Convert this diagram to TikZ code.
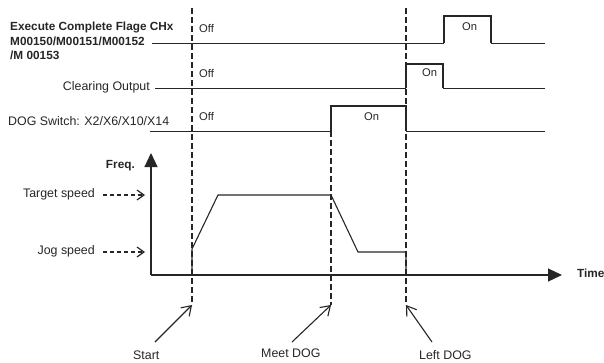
\documentclass[tikz,border=0pt]{standalone}
\usepackage{fontspec}
\setmainfont{Liberation Sans}
\usetikzlibrary{arrows.meta}
\definecolor{ink}{gray}{0.15}
\begin{document}
\begin{tikzpicture}[x=1pt,y=-1pt,
  lbl/.style={inner sep=0pt,text=ink,font=\fontsize{12.4}{14}\selectfont},
  blbl/.style={inner sep=0pt,text=ink,font=\fontsize{11.8}{14}\selectfont\bfseries},
  state/.style={inner sep=0pt,text=ink,font=\fontsize{11.2}{13}\selectfont},
  base/.style={draw=ink,line width=0.9pt},
  high/.style={draw=ink,line width=1.4pt},
  marker/.style={draw=ink,line width=1.8pt,dash pattern=on 6pt off 3pt},
  axis/.style={draw=ink,line width=1.2pt,-{Triangle[length=14pt,width=13pt]}},
  hint/.style={draw=ink,line width=1.2pt,dash pattern=on 4pt off 3pt,-{Straight Barb[length=7pt,width=10pt]}},
  pointer/.style={draw=ink,line width=1.1pt,-{Straight Barb[length=9pt,width=12pt]}},
  profile/.style={draw=ink,line width=1.1pt}
]
\useasboundingbox (0,0) rectangle (604,362);

% labels
\node[blbl,anchor=mid west] (l1a) at (10,28) {Execute Complete Flage CHx};
\node[blbl,anchor=mid west] (l1b) at (10,43) {M00150/M00151/M00152};
\node[blbl,anchor=mid west] (l1c) at (10,57) {/M 00153};
\node[lbl,anchor=mid east] (l2) at (150,88) {Clearing Output};
\node[lbl,anchor=mid west] (l3) at (8,123) {DOG Switch: X2/X6/X10/X14};

\node[state,anchor=mid west] (off1) at (199,30) {Off};
\node[state,anchor=mid west] (off2) at (199,75) {Off};
\node[state,anchor=mid west] (off3) at (199,118) {Off};
\node[state,anchor=mid west] (on1) at (462,28) {On};
\node[state,anchor=mid west] (on2) at (422,74) {On};
\node[state,anchor=mid west] (on3) at (364,118) {On};

% signal 1
\coordinate (s1a) at (152,43);
\coordinate (s1b) at (444,43);
\coordinate (s1c) at (444,16);
\coordinate (s1d) at (491,16);
\coordinate (s1e) at (491,43);
\coordinate (s1f) at (545,43);
\draw[base] (s1a) -- (s1b);
\draw[high] (s1b) -- (s1c) -- (s1d) -- (s1e);
\draw[base] (s1e) -- (s1f);

% signal 2
\coordinate (s2a) at (155,88);
\coordinate (s2b) at (406,88);
\coordinate (s2c) at (406,64);
\coordinate (s2d) at (443,64);
\coordinate (s2e) at (443,88);
\coordinate (s2f) at (545,88);
\draw[base] (s2a) -- (s2b);
\draw[high] (s2b) -- (s2c) -- (s2d) -- (s2e);
\draw[base] (s2e) -- (s2f);

% signal 3
\coordinate (s3a) at (150,131);
\coordinate (s3b) at (331,131);
\coordinate (s3c) at (331,106);
\coordinate (s3d) at (406,106);
\coordinate (s3e) at (406,131);
\coordinate (s3f) at (545,131);
\draw[base] (s3a) -- (s3b);
\draw[high] (s3b) -- (s3c) -- (s3d) -- (s3e);
\draw[base] (s3e) -- (s3f);

% marker lines
\coordinate (mStartTop) at (192,8);
\coordinate (mStartBot) at (192,305);
\coordinate (mMeetBot) at (331,305);
\coordinate (mLeftTop) at (406,8);
\coordinate (mLeftBot) at (406,305);
\draw[marker] (mStartTop) -- (mStartBot);
\draw[marker] (s3b) -- (mMeetBot);
\draw[marker] (mLeftTop) -- (mLeftBot);

% axes
\coordinate (origin) at (151,275);
\coordinate (fTop) at (151,153);
\coordinate (tEnd) at (562,275);
\draw[axis] (origin) -- (fTop);
\draw[axis] (origin) -- (tEnd);
\node[blbl,anchor=mid east] (freq) at (135,166) {Freq.};
\node[blbl,anchor=mid west] (time) at (577,275) {Time};

% speed hints
\node[lbl,anchor=mid east] (target) at (95,195) {Target speed};
\node[lbl,anchor=mid east] (jog) at (95,252) {Jog speed};
\coordinate (targetTip) at (145,195);
\coordinate (jogTip) at (145,252);
\draw[hint] ([xshift=8pt]target.mid east) -- (targetTip);
\draw[hint] ([xshift=8pt]jog.mid east) -- (jogTip);

% frequency profile
\coordinate (p0) at (192,275);
\coordinate (p1) at (192,249);
\coordinate (p2) at (218,195);
\coordinate (p3) at (331,195);
\coordinate (p4) at (358,252);
\coordinate (p5) at (406,252);
\coordinate (p6) at (406,275);
\draw[profile] (p0) -- (p1) -- (p2) -- (p3) -- (p4) -- (p5) -- (p6);

% event labels and pointers
\node[lbl,anchor=mid west] (start) at (133,357) {Start};
\node[lbl,anchor=mid west] (meet) at (261,355) {Meet DOG};
\node[lbl,anchor=mid west] (left) at (419,357) {Left DOG};
\coordinate (ptStart) at (155,342);
\coordinate (ptMeet) at (292,342);
\coordinate (ptLeft) at (432,342);
\draw[pointer] (ptStart) -- (mStartBot);
\draw[pointer] (ptMeet) -- (mMeetBot);
\draw[pointer] (ptLeft) -- (mLeftBot);
\end{tikzpicture}
\end{document}
